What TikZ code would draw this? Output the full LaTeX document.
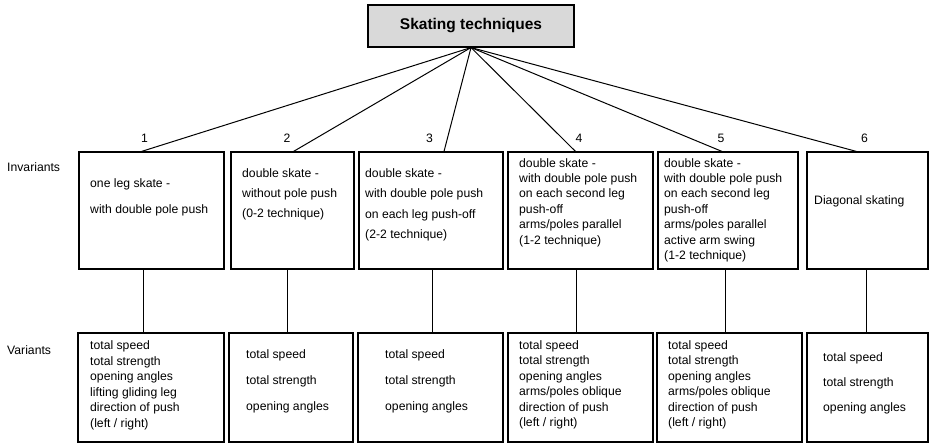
\documentclass[tikz,border=0pt]{standalone}
\usepackage{fontspec}
\setmainfont{Liberation Sans}
\usepackage{tikz}

\begin{document}
\begin{tikzpicture}[x=1pt,y=-1pt,
	box/.style={draw, line width=1.1pt, inner sep=0pt},
	txt/.style={anchor=north west, align=left, inner sep=0pt, font=\fontsize{12.2}{#1}\selectfont},
	txt/.default=15.4,
	lbl/.style={anchor=west, inner sep=0pt, font=\fontsize{12.2}{14}\selectfont},
	link/.style={line width=1pt}]
				\useasboundingbox (0,0) rectangle (932,443);
				
				% root
				\node[box, fill=gray!30, minimum width=206pt, minimum height=42pt, font=\fontsize{15.5}{18}\selectfont\bfseries] (top) at (471,26) {Skating techniques};
				
				\node[lbl] (invlbl) at (7,167) {Invariants};
				\node[lbl] (varlbl) at (7,350) {Variants};
				
				% the two rows of boxes
				\foreach \i/\cx/\w/\nx in {1/151.5/145pt/144.5, 2/292.5/123pt/287, 3/431/144pt/429.5, 4/580.5/145pt/579, 5/728/140pt/721, 6/867.5/121pt/864.5}{
					\node[box, minimum width=\w, minimum height=117pt] (inv\i) at (\cx,210.5) {};
					\node[lbl, anchor=center] (num\i) at (\nx,138) {\i};
				}
				\foreach \i/\cx/\w in {1/151/146pt, 2/291/124pt, 3/430.5/145pt, 4/580.5/145pt, 5/729.5/145pt, 6/867.5/121pt}
					\node[box, minimum width=\w, minimum height=109pt] (var\i) at (\cx,387.5) {};
				
				% invariants
				\node[txt=26] (inv1t) at (90,178) {one leg skate -\\with double pole push};
				\node[txt=20] (inv2t) at (242,168) {double skate -\\without pole push\\(0-2 technique)};
				\node[txt=20.5] (inv3t) at (365,168) {double skate -\\with double pole push\\on each leg push-off\\(2-2 technique)};
				\node[txt] (inv4t) at (519,158) {double skate -\\with double pole push\\on each second leg\\push-off\\arms/poles parallel\\(1-2 technique)};
				\node[txt] (inv5t) at (664,158) {double skate -\\with double pole push\\on each second leg\\push-off\\arms/poles parallel\\active arm swing\\(1-2 technique)};
				\node[txt] (inv6t) at (814,195) {Diagonal skating};
				
				% variants
				\node[txt=15.5] (var1t) at (90,340.5) {total speed\\total strength\\opening angles\\lifting gliding leg\\direction of push\\(left / right)};
				\node[txt=26] (var2t) at (246,349) {total speed\\total strength\\opening angles};
				\node[txt=26] (var3t) at (385,349) {total speed\\total strength\\opening angles};
				\node[txt=15.5] (var4t) at (519,340) {total speed\\total strength\\opening angles\\arms/poles oblique\\direction of push\\(left / right)};
				\node[txt=15.5] (var5t) at (668,340) {total speed\\total strength\\opening angles\\arms/poles oblique\\direction of push\\(left / right)};
				\node[txt=25] (var6t) at (823,352) {total speed\\total strength\\opening angles};
				
				% fan from the root, then straight down to the variants
				\foreach \i/\dx in {1/-10, 2/1, 3/13, 4/-5, 5/-6, 6/-11}
					\draw[link] (top.south) -- ([xshift=\dx pt]inv\i.north);
				\foreach \i/\dx in {1/-8, 2/-5, 3/1, 4/-4, 5/-3, 6/-1}{
					\coordinate (s\i) at ([xshift=\dx pt]inv\i.south);
					\draw[link] (s\i) -- (s\i |- var\i.north);
				}
\end{tikzpicture}
\end{document}
